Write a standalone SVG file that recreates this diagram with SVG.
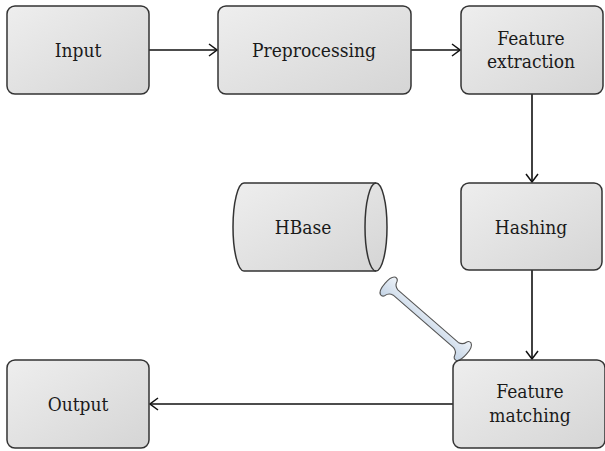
<svg xmlns="http://www.w3.org/2000/svg" width="605" height="451" viewBox="0 0 605 451">
  <defs>
    <linearGradient id="boxFill" x1="0" y1="0" x2="1" y2="1">
      <stop offset="0" stop-color="#eeeeee"/>
      <stop offset="1" stop-color="#d5d5d5"/>
    </linearGradient>
    <linearGradient id="pipeFill" x1="0" y1="0" x2="0" y2="1">
      <stop offset="0" stop-color="#eef3f9"/>
      <stop offset="1" stop-color="#c3d3e5"/>
    </linearGradient>
    <marker id="arrow" viewBox="0 0 10 14" markerWidth="10" markerHeight="14" refX="9" refY="7" orient="auto" markerUnits="userSpaceOnUse">
      <path d="M1,1 L9,7 L1,13" fill="none" stroke="#111" stroke-width="1.5"/>
    </marker>
  </defs>
  <style>
    .box { fill: url(#boxFill); stroke: #333; stroke-width: 1.5; }
    .label { font-family: 'DejaVu Serif', 'Liberation Serif', serif; font-stretch: condensed; font-size: 19px; fill: #1a1a1a; text-anchor: middle; }
    .edge { stroke: #111; stroke-width: 1.6; fill: none; marker-end: url(#arrow); }
  </style>
  <rect width="605" height="451" fill="#ffffff"/>

  <g id="connectors">
    <line class="edge" x1="149" y1="50" x2="217" y2="50"/>
    <line class="edge" x1="411" y1="50" x2="460" y2="50"/>
    <line class="edge" x1="532" y1="93" x2="532" y2="182"/>
    <line class="edge" x1="532" y1="270" x2="532" y2="359"/>
    <line class="edge" x1="453" y1="404" x2="150" y2="404"/>
    <!-- two-way pipe between HBase and feature matching -->
    <path transform="translate(388,286) rotate(41)" fill="url(#pipeFill)" stroke="#555" stroke-width="1.1" d="M10,-3.5 L90,-3.5 Q95,-4.5 96,-9 Q97,-12 100,-11.5 Q104,-10 104,0 Q104,10 100,11.5 Q97,12 96,9 Q95,4.5 90,3.5 L10,3.5 Q5,4.5 4,9 Q3,12 0,11.5 Q-4,10 -4,0 Q-4,-10 0,-11.5 Q3,-12 4,-9 Q5,-4.5 10,-3.5 Z"/>
  </g>

  <g id="input">
    <rect class="box" x="7" y="6" width="142" height="88" rx="8"/>
    <text class="label" x="78" y="57">Input</text>
  </g>

  <g id="preprocessing">
    <rect class="box" x="218" y="6" width="193" height="88" rx="8"/>
    <text class="label" x="314" y="57">Preprocessing</text>
  </g>

  <g id="feature-extraction">
    <rect class="box" x="461" y="6" width="142" height="88" rx="8"/>
    <text class="label" x="531" y="45">Feature</text>
    <text class="label" x="531" y="68">extraction</text>
  </g>

  <g id="hashing">
    <rect class="box" x="461" y="183" width="141" height="87" rx="8"/>
    <text class="label" x="531" y="234">Hashing</text>
  </g>

  <g id="hbase">
    <path class="box" d="M244,183 H376 A11,44 0 0 1 376,271 H244 A11,44 0 0 1 244,183 Z"/>
    <path d="M376,183 A11,44 0 0 0 376,271" fill="none" stroke="#333" stroke-width="1.5"/>
    <text class="label" x="303" y="234">HBase</text>
  </g>

  <g id="feature-matching">
    <rect class="box" x="453" y="360" width="152" height="88" rx="8"/>
    <text class="label" x="530" y="398">Feature</text>
    <text class="label" x="530" y="422">matching</text>
  </g>

  <g id="output">
    <rect class="box" x="7" y="360" width="142" height="88" rx="8"/>
    <text class="label" x="78" y="411">Output</text>
  </g>
</svg>
